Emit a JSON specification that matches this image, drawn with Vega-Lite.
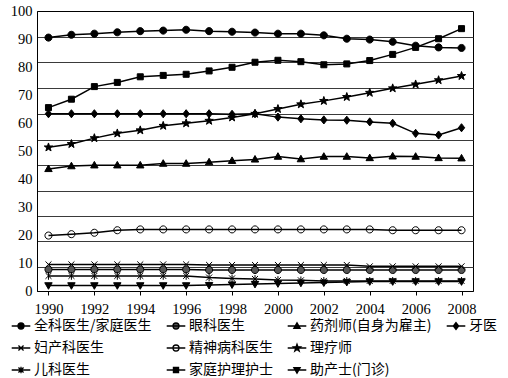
{
  "$schema": "https://vega.github.io/schema/vega-lite/v6.json",
  "width": 436,
  "height": 280,
  "autosize": "none",
  "padding": {"left": 37, "top": 11, "right": 35, "bottom": 87},
  "background": "white",
  "config": {
    "view": {"stroke": "black", "strokeWidth": 1},
    "axis": {"domainColor": "black", "tickColor": "black", "labelColor": "black", "labelFont": "Liberation Serif", "labelFontSize": 14.5},
    "legend": {"labelFont": "Noto Sans CJK SC", "labelFontSize": 14, "labelColor": "black"}
  },
  "data": {
    "values": [
      {"year": 1990, "全科医生/家庭医生": 90.5, "家庭护理护士": 65.5, "牙医": 63.3, "理疗师": 51.3, "药剂师(自身为雇主)": 43.6, "精神病科医生": 19.8, "妇产科医生": 9.5, "眼科医生": 7.7, "儿科医生": 5.4, "助产士(门诊)": 2.0},
      {"year": 1991, "全科医生/家庭医生": 91.5, "家庭护理护士": 68.5, "牙医": 63.3, "理疗师": 52.5, "药剂师(自身为雇主)": 44.6, "精神病科医生": 20.3, "妇产科医生": 9.5, "眼科医生": 7.7, "儿科医生": 5.4, "助产士(门诊)": 2.0},
      {"year": 1992, "全科医生/家庭医生": 91.9, "家庭护理护士": 73.0, "牙医": 63.3, "理疗师": 54.6, "药剂师(自身为雇主)": 44.9, "精神病科医生": 20.8, "妇产科医生": 9.5, "眼科医生": 7.7, "儿科医生": 5.4, "助产士(门诊)": 2.0},
      {"year": 1993, "全科医生/家庭医生": 92.4, "家庭护理护士": 74.5, "牙医": 63.3, "理疗师": 56.3, "药剂师(自身为雇主)": 44.9, "精神病科医生": 21.7, "妇产科医生": 9.5, "眼科医生": 7.7, "儿科医生": 5.4, "助产士(门诊)": 2.0},
      {"year": 1994, "全科医生/家庭医生": 92.8, "家庭护理护士": 76.5, "牙医": 63.3, "理疗师": 57.4, "药剂师(自身为雇主)": 44.9, "精神病科医生": 22.0, "妇产科医生": 9.5, "眼科医生": 7.7, "儿科医生": 5.4, "助产士(门诊)": 2.0},
      {"year": 1995, "全科医生/家庭医生": 93.0, "家庭护理护士": 77.0, "牙医": 63.3, "理疗师": 59.0, "药剂师(自身为雇主)": 45.5, "精神病科医生": 22.0, "妇产科医生": 9.5, "眼科医生": 7.7, "儿科医生": 5.4, "助产士(门诊)": 2.0},
      {"year": 1996, "全科医生/家庭医生": 93.3, "家庭护理护士": 77.4, "牙医": 63.3, "理疗师": 59.9, "药剂师(自身为雇主)": 45.5, "精神病科医生": 22.0, "妇产科医生": 9.5, "眼科医生": 7.7, "儿科医生": 5.4, "助产士(门诊)": 2.0},
      {"year": 1997, "全科医生/家庭医生": 92.8, "家庭护理护士": 78.6, "牙医": 63.3, "理疗师": 60.8, "药剂师(自身为雇主)": 46.0, "精神病科医生": 22.0, "妇产科医生": 9.3, "眼科医生": 7.5, "儿科医生": 4.8, "助产士(门诊)": 2.1},
      {"year": 1998, "全科医生/家庭医生": 92.6, "家庭护理护士": 79.9, "牙医": 63.1, "理疗师": 62.0, "药剂师(自身为雇主)": 46.5, "精神病科医生": 22.0, "妇产科医生": 9.3, "眼科医生": 7.5, "儿科医生": 4.5, "助产士(门诊)": 2.3},
      {"year": 1999, "全科医生/家庭医生": 92.3, "家庭护理护士": 81.7, "牙医": 63.3, "理疗师": 63.3, "药剂师(自身为雇主)": 47.0, "精神病科医生": 22.0, "妇产科医生": 9.3, "眼科医生": 7.5, "儿科医生": 4.3, "助产士(门诊)": 2.5},
      {"year": 2000, "全科医生/家庭医生": 91.9, "家庭护理护士": 82.4, "牙医": 62.1, "理疗师": 65.0, "药剂师(自身为雇主)": 48.0, "精神病科医生": 22.0, "妇产科医生": 9.3, "眼科医生": 7.5, "儿科医生": 3.9, "助产士(门诊)": 2.7},
      {"year": 2001, "全科医生/家庭医生": 91.9, "家庭护理护士": 81.9, "牙医": 61.5, "理疗师": 66.7, "药剂师(自身为雇主)": 47.1, "精神病科医生": 22.0, "妇产科医生": 9.3, "眼科医生": 7.5, "儿科医生": 3.8, "助产士(门诊)": 2.9},
      {"year": 2002, "全科医生/家庭医生": 91.3, "家庭护理护士": 80.8, "牙医": 61.1, "理疗师": 67.9, "药剂师(自身为雇主)": 48.0, "精神病科医生": 22.0, "妇产科医生": 9.3, "眼科医生": 7.5, "儿科医生": 3.6, "助产士(门诊)": 3.0},
      {"year": 2003, "全科医生/家庭医生": 90.1, "家庭护理护士": 81.1, "牙医": 61.0, "理疗师": 69.3, "药剂师(自身为雇主)": 48.0, "精神病科医生": 22.0, "妇产科医生": 9.3, "眼科医生": 7.5, "儿科医生": 3.6, "助产士(门诊)": 3.2},
      {"year": 2004, "全科医生/家庭医生": 89.8, "家庭护理护士": 82.3, "牙医": 60.4, "理疗师": 70.8, "药剂师(自身为雇主)": 47.5, "精神病科医生": 22.0, "妇产科医生": 8.8, "眼科医生": 7.5, "儿科医生": 3.6, "助产士(门诊)": 3.4},
      {"year": 2005, "全科医生/家庭医生": 89.0, "家庭护理护士": 84.5, "牙医": 59.9, "理疗师": 72.4, "药剂师(自身为雇主)": 48.1, "精神病科医生": 21.7, "妇产科医生": 8.8, "眼科医生": 7.5, "儿科医生": 3.6, "助产士(门诊)": 3.4},
      {"year": 2006, "全科医生/家庭医生": 87.6, "家庭护理护士": 87.0, "牙医": 56.3, "理疗师": 73.8, "药剂师(自身为雇主)": 48.0, "精神病科医生": 21.7, "妇产科医生": 8.8, "眼科医生": 7.5, "儿科医生": 3.6, "助产士(门诊)": 3.4},
      {"year": 2007, "全科医生/家庭医生": 87.0, "家庭护理护士": 90.1, "牙医": 55.7, "理疗师": 75.3, "药剂师(自身为雇主)": 47.5, "精神病科医生": 21.7, "妇产科医生": 8.8, "眼科医生": 7.5, "儿科医生": 3.6, "助产士(门诊)": 3.4},
      {"year": 2008, "全科医生/家庭医生": 86.8, "家庭护理护士": 93.7, "牙医": 58.3, "理疗师": 76.8, "药剂师(自身为雇主)": 47.4, "精神病科医生": 21.7, "妇产科医生": 8.8, "眼科医生": 7.5, "儿科医生": 3.6, "助产士(门诊)": 3.4}
    ]
  },
  "transform": [
    {"fold": ["全科医生/家庭医生", "眼科医生", "药剂师(自身为雇主)", "牙医", "妇产科医生", "精神病科医生", "理疗师", "儿科医生", "家庭护理护士", "助产士(门诊)"], "as": ["series", "value"]}
  ],
  "encoding": {
    "x": {
      "field": "year", "type": "quantitative", "title": null,
      "scale": {"domain": [1989.5, 2008.5], "nice": false, "zero": false},
      "axis": {"values": [1990, 1992, 1994, 1996, 1998, 2000, 2002, 2004, 2006, 2008], "format": "d", "grid": false, "ticks": true, "tickSize": 4, "labelPadding": 7, "labelFlush": false, "labelOverlap": false, "labelFont": "Liberation Serif", "labelFontSize": 14.5}
    }
  },
  "layer": [
    {
      "mark": {"type": "line", "color": "black", "strokeWidth": 1.5},
      "encoding": {
        "y": {
          "field": "value", "type": "quantitative", "title": null,
          "scale": {"domain": [0, 100], "nice": false},
          "axis": {"values": [0, 10, 20, 30, 40, 50, 60, 70, 80, 90, 100], "grid": false, "ticks": false, "labelPadding": 5, "orient": "left", "labelFont": "Liberation Serif", "labelFontSize": 14.5}
        },
        "detail": {"field": "series"}
      }
    },
    {
      "mark": {"type": "point", "filled": true, "stroke": "black", "strokeWidth": 1, "size": 50, "opacity": 1},
      "encoding": {
        "y": {
          "field": "value", "type": "quantitative", "title": null,
          "axis": {"orient": "left", "values": [8.6, 17.9, 26.8, 35.7, 45.0, 53.9, 63.2, 72.5, 81.8, 90.7], "grid": true, "gridColor": "#3a3a3a", "gridWidth": 1, "gridOpacity": 1, "labels": false, "ticks": false, "domain": false}
        },
        "shape": {
          "field": "series", "type": "nominal",
          "scale": {
            "domain": ["全科医生/家庭医生", "眼科医生", "药剂师(自身为雇主)", "牙医", "妇产科医生", "精神病科医生", "理疗师", "儿科医生", "家庭护理护士", "助产士(门诊)"],
            "range": [
              "M-1,0A1,1,0,1,0,1,0A1,1,0,1,0,-1,0Z",
              "M-1,0A1,1,0,1,0,1,0A1,1,0,1,0,-1,0Z",
              "M0,-1.1L1.05,0.75L-1.05,0.75Z",
              "M0,-1.15L0.9,0L0,1.15L-0.9,0Z",
              "M-0.85,-0.85L0.85,0.85M-0.85,0.85L0.85,-0.85",
              "M-1,0A1,1,0,1,0,1,0A1,1,0,1,0,-1,0Z",
              "M0,-1.25L0.294,-0.405L1.189,-0.386L0.476,0.155L0.735,1.011L0,0.5L-0.735,1.011L-0.476,0.155L-1.189,-0.386L-0.294,-0.405Z",
              "M-0.85,-0.85L0.85,0.85M-0.85,0.85L0.85,-0.85M0,-1.1V1.1",
              "M-0.85,-0.85H0.85V0.85H-0.85Z",
              "M0,1.1L1.05,-0.75L-1.05,-0.75Z"
            ]
          },
          "legend": null
        },
        "fill": {
          "field": "series", "type": "nominal",
          "scale": {
            "domain": ["全科医生/家庭医生", "眼科医生", "药剂师(自身为雇主)", "牙医", "妇产科医生", "精神病科医生", "理疗师", "儿科医生", "家庭护理护士", "助产士(门诊)"],
            "range": ["black", "#555555", "black", "black", "black", "transparent", "black", "black", "black", "black"]
          },
          "legend": null
        }
      }
    },
    {
      "transform": [{"filter": "false"}],
      "mark": {"type": "point", "filled": false, "stroke": "black", "strokeWidth": 1.3, "size": 36, "opacity": 1},
      "encoding": {
        "y": {"field": "value", "type": "quantitative", "title": null, "axis": null},
        "shape": {
          "field": "series", "type": "nominal",
          "scale": {
            "domain": ["全科医生/家庭医生", "眼科医生", "药剂师(自身为雇主)", "牙医", "妇产科医生", "精神病科医生", "理疗师", " ", "儿科医生", "家庭护理护士", "助产士(门诊)"],
            "range": [
              "M-3.1,0H3.1M-1,0A1,1,0,1,0,1,0A1,1,0,1,0,-1,0Z",
              "M-3.1,0H3.1M-1,0A1,1,0,1,0,1,0A1,1,0,1,0,-1,0Z",
              "M-3.1,0H3.1M0,-1.1L1.05,0.75L-1.05,0.75Z",
              "M-3.1,0H3.1M0,-1.15L0.9,0L0,1.15L-0.9,0Z",
              "M-3.1,0H3.1M-0.85,-0.85L0.85,0.85M-0.85,0.85L0.85,-0.85",
              "M-3.1,0H3.1M-1,0A1,1,0,1,0,1,0A1,1,0,1,0,-1,0Z",
              "M-3.1,0H3.1M0,-1.25L0.294,-0.405L1.189,-0.386L0.476,0.155L0.735,1.011L0,0.5L-0.735,1.011L-0.476,0.155L-1.189,-0.386L-0.294,-0.405Z",
              "M0,0",
              "M-3.1,0H3.1M-0.85,-0.85L0.85,0.85M-0.85,0.85L0.85,-0.85M0,-1.1V1.1",
              "M-3.1,0H3.1M-0.85,-0.85H0.85V0.85H-0.85Z",
              "M-3.1,0H3.1M0,1.1L1.05,-0.75L-1.05,-0.75Z"
            ]
          },
          "legend": {
            "title": null, "orient": "none", "legendX": -28, "legendY": 308,
            "columns": 4, "direction": "horizontal", "columnPadding": 12, "rowPadding": 8,
            "symbolSize": 36, "symbolOffset": 5, "labelOffset": 6,
            "symbolStrokeWidth": 1.3, "symbolStrokeColor": "black", "labelLimit": 300
          }
        },
        "fill": {
          "field": "series", "type": "nominal",
          "scale": {
            "domain": ["全科医生/家庭医生", "眼科医生", "药剂师(自身为雇主)", "牙医", "妇产科医生", "精神病科医生", "理疗师", " ", "儿科医生", "家庭护理护士", "助产士(门诊)"],
            "range": ["black", "#555555", "black", "black", "black", "transparent", "black", "transparent", "black", "black", "black"]
          },
          "legend": {
            "title": null, "orient": "none", "legendX": -28, "legendY": 308,
            "columns": 4, "direction": "horizontal", "columnPadding": 12, "rowPadding": 8,
            "symbolSize": 36, "symbolOffset": 5, "labelOffset": 6,
            "symbolStrokeWidth": 1.3, "symbolStrokeColor": "black", "labelLimit": 300
          }
        },
        "stroke": {
          "field": "series", "type": "nominal",
          "scale": {
            "domain": ["全科医生/家庭医生", "眼科医生", "药剂师(自身为雇主)", "牙医", "妇产科医生", "精神病科医生", "理疗师", " ", "儿科医生", "家庭护理护士", "助产士(门诊)"],
            "range": ["black", "black", "black", "black", "black", "black", "black", "black", "black", "black", "black"]
          },
          "legend": {
            "title": null, "orient": "none", "legendX": -28, "legendY": 308,
            "columns": 4, "direction": "horizontal", "columnPadding": 12, "rowPadding": 8,
            "symbolSize": 36, "symbolOffset": 5, "labelOffset": 6,
            "symbolStrokeWidth": 1.3, "symbolStrokeColor": "black", "labelLimit": 300
          }
        }
      }
    }
  ],
  "resolve": {"axis": {"y": "independent"}, "scale": {"shape": "independent", "fill": "independent", "stroke": "independent"}}
}
